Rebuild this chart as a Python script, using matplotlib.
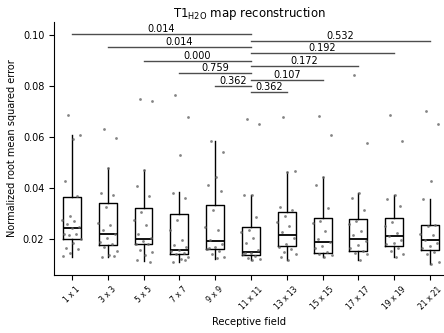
import numpy as np
import matplotlib
matplotlib.use("Agg")
import matplotlib.pyplot as plt

fields = ["1 x 1", "3 x 3", "5 x 5", "7 x 7", "9 x 9", "11 x 11",
          "13 x 13", "15 x 15", "17 x 17", "19 x 19", "21 x 21"]

# box statistics
q1 = [0.0199, 0.0179, 0.0180, 0.0144, 0.0161, 0.0139, 0.0174, 0.0148, 0.0154, 0.0175, 0.0157]
med = [0.0244, 0.0220, 0.0200, 0.0157, 0.0192, 0.0150, 0.0217, 0.0190, 0.0199, 0.0213, 0.0196]
q3 = [0.0367, 0.0340, 0.0323, 0.0298, 0.0333, 0.0248, 0.0307, 0.0284, 0.0281, 0.0284, 0.0255]
whislo = [0.0131, 0.0131, 0.0115, 0.0111, 0.0124, 0.0120, 0.0120, 0.0130, 0.0118, 0.0131, 0.0105]
whishi = [0.0608, 0.0480, 0.0471, 0.0384, 0.0584, 0.0373, 0.0464, 0.0442, 0.0382, 0.0375, 0.0357]

points = [
    [0.0686, 0.0608, 0.0591, 0.0427, 0.0370, 0.0291, 0.0277, 0.0272, 0.0259, 0.0248,
     0.0242, 0.0222, 0.0220, 0.0217, 0.0199, 0.0186, 0.0166, 0.0160, 0.0146, 0.0133],
    [0.0631, 0.0595, 0.0480, 0.0382, 0.0375, 0.0327, 0.0262, 0.0254, 0.0238, 0.0222,
     0.0203, 0.0190, 0.0183, 0.0170, 0.0154, 0.0137, 0.0131, 0.0133],
    [0.0748, 0.0739, 0.0471, 0.0407, 0.0369, 0.0305, 0.0277, 0.0254, 0.0222, 0.0203,
     0.0193, 0.0183, 0.0180, 0.0157, 0.0150, 0.0137, 0.0118, 0.0111],
    [0.0765, 0.0680, 0.0529, 0.0382, 0.0360, 0.0277, 0.0238, 0.0196, 0.0176, 0.0170,
     0.0157, 0.0153, 0.0146, 0.0141, 0.0131, 0.0124, 0.0111, 0.0120],
    [0.0584, 0.0542, 0.0442, 0.0412, 0.0389, 0.0316, 0.0248, 0.0235, 0.0196, 0.0180,
     0.0170, 0.0160, 0.0154, 0.0141, 0.0131, 0.0127, 0.0164],
    [0.0671, 0.0650, 0.0375, 0.0373, 0.0288, 0.0235, 0.0229, 0.0203, 0.0187, 0.0157,
     0.0146, 0.0141, 0.0133, 0.0128, 0.0123, 0.0120, 0.0145],
    [0.0677, 0.0467, 0.0464, 0.0327, 0.0316, 0.0290, 0.0268, 0.0251, 0.0229, 0.0203,
     0.0183, 0.0170, 0.0160, 0.0150, 0.0144, 0.0120, 0.0131],
    [0.0684, 0.0608, 0.0442, 0.0411, 0.0324, 0.0272, 0.0262, 0.0231, 0.0199, 0.0190,
     0.0174, 0.0164, 0.0150, 0.0144, 0.0137, 0.0131],
    [0.0843, 0.0578, 0.0382, 0.0362, 0.0316, 0.0272, 0.0259, 0.0233, 0.0216, 0.0192,
     0.0176, 0.0164, 0.0154, 0.0146, 0.0144, 0.0118],
    [0.0686, 0.0584, 0.0375, 0.0356, 0.0331, 0.0268, 0.0252, 0.0225, 0.0212, 0.0196,
     0.0186, 0.0180, 0.0164, 0.0153, 0.0144, 0.0131],
    [0.0703, 0.0649, 0.0427, 0.0357, 0.0255, 0.0251, 0.0222, 0.0216, 0.0196, 0.0186,
     0.0173, 0.0167, 0.0150, 0.0141, 0.0111, 0.0105],
]

# pairwise comparisons against 11 x 11 (index 5)
pair_other = [0, 1, 2, 3, 4, 10, 9, 8, 7, 6]
pair_level = [0.1004, 0.0951, 0.0899, 0.0851, 0.0800, 0.0975, 0.0927, 0.0876, 0.0825, 0.0775]
pair_p = ["0.014", "0.014", "0.000", "0.759", "0.362", "0.532", "0.192", "0.172", "0.107", "0.362"]
ref_idx = 5


def main() -> None:
    fig = plt.figure(figsize=(4.44, 3.33), dpi=100)
    ax = fig.add_axes([54 / 444, 58 / 333, 390 / 444, 253 / 333])

    stats = []
    for i in range(len(fields)):
        stats.append({"q1": q1[i], "med": med[i], "q3": q3[i],
                      "whislo": whislo[i], "whishi": whishi[i], "fliers": []})
    ax.bxp(stats, positions=range(len(fields)), widths=0.5, showcaps=False,
           boxprops=dict(color="black", linewidth=1.0),
           whiskerprops=dict(color="black", linewidth=1.0),
           medianprops=dict(color="black", linewidth=1.3))

    for i, vals in enumerate(points):
        n = len(vals)
        offs = ((np.arange(n) * 0.618034 + 0.3) % 1.0 - 0.5) * 0.55
        ax.scatter(i + offs, vals, s=4, color="0.4", alpha=0.8, linewidths=0, zorder=3)

    for other, level, p in zip(pair_other, pair_level, pair_p):
        x0, x1 = sorted((other, ref_idx))
        ax.plot([x0, x1], [level, level], color="0.3", linewidth=1.0)
        ax.text((x0 + x1) / 2, level, p, ha="center", va="bottom", fontsize=7)

    ax.set_xlim(-0.5, 10.39)
    ax.set_ylim(0.006, 0.105)
    ax.set_yticks([0.02, 0.04, 0.06, 0.08, 0.10])
    ax.set_yticklabels(["0.02", "0.04", "0.06", "0.08", "0.10"])
    ax.set_xticks(range(len(fields)))
    ax.set_xticklabels(fields, rotation=45, ha="center")
    ax.tick_params(axis="y", labelsize=7)
    ax.tick_params(axis="x", labelsize=5.5)
    ax.spines["top"].set_visible(False)
    ax.spines["right"].set_visible(False)
    ax.set_xlabel("Receptive field", fontsize=7.2, labelpad=4.5)
    ax.set_ylabel("Normalized root mean squared error", fontsize=7)
    ax.set_title(r"T1$_{\mathrm{H2O}}$ map reconstruction", fontsize=8.5, pad=3)

    fig.savefig("out.png", dpi=100)


if __name__ == "__main__":
    main()
